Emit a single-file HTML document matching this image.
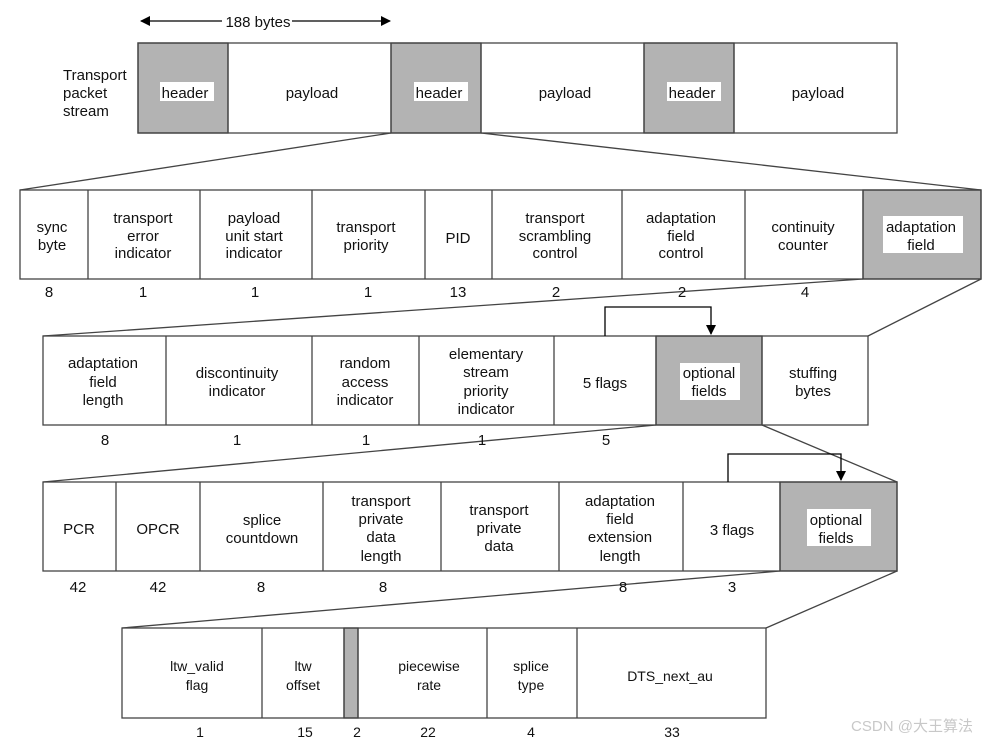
<!DOCTYPE html>
<html><head><meta charset="utf-8"><style>
html,body{margin:0;padding:0;background:#fff;}
svg{display:block;}
text{font-family:"Liberation Sans",Arial,sans-serif;font-size:15px;fill:#111;text-anchor:middle;}
.n5 text{font-size:14px;}
</style></head><body>
<svg width="989" height="744" viewBox="0 0 989 744" xmlns="http://www.w3.org/2000/svg">
<defs><marker id="ah" markerWidth="10" markerHeight="10" refX="9" refY="5" orient="auto" markerUnits="userSpaceOnUse"><path d="M0,0 L10,5 L0,10 z" fill="#000"/></marker>
<marker id="ah2" markerWidth="10" markerHeight="10" refX="1" refY="5" orient="auto" markerUnits="userSpaceOnUse"><path d="M10,0 L0,5 L10,10 z" fill="#000"/></marker></defs>
<g stroke="#444" stroke-width="1.3" fill="none">
<!-- 188 bytes arrow -->
<line x1="141" y1="21" x2="222" y2="21" stroke="#000" marker-start="url(#ah2)"/>
<line x1="292" y1="21" x2="390" y2="21" stroke="#000" marker-end="url(#ah)"/>
<!-- row1 -->
<rect x="138" y="43" width="90" height="90" fill="#b3b3b3"/>
<rect x="391" y="43" width="90" height="90" fill="#b3b3b3"/>
<rect x="644" y="43" width="90" height="90" fill="#b3b3b3"/>
<rect x="138" y="43" width="759" height="90"/>
<line x1="228" y1="43" x2="228" y2="133"/><line x1="391" y1="43" x2="391" y2="133"/><line x1="481" y1="43" x2="481" y2="133"/><line x1="644" y1="43" x2="644" y2="133"/><line x1="734" y1="43" x2="734" y2="133"/>
<line x1="391" y1="133" x2="20" y2="190"/><line x1="481" y1="133" x2="981" y2="190"/>
<!-- row2 -->
<rect x="863" y="190" width="118" height="89" fill="#b3b3b3"/>
<rect x="20" y="190" width="961" height="89"/>
<line x1="88" y1="190" x2="88" y2="279"/><line x1="200" y1="190" x2="200" y2="279"/><line x1="312" y1="190" x2="312" y2="279"/><line x1="425" y1="190" x2="425" y2="279"/><line x1="492" y1="190" x2="492" y2="279"/><line x1="622" y1="190" x2="622" y2="279"/><line x1="745" y1="190" x2="745" y2="279"/><line x1="863" y1="190" x2="863" y2="279"/>
<line x1="863" y1="279" x2="43" y2="336"/><line x1="981" y1="279" x2="868" y2="336"/>
<!-- row3 -->
<rect x="656" y="336" width="106" height="89" fill="#b3b3b3"/>
<rect x="43" y="336" width="825" height="89"/>
<line x1="166" y1="336" x2="166" y2="425"/><line x1="312" y1="336" x2="312" y2="425"/><line x1="419" y1="336" x2="419" y2="425"/><line x1="554" y1="336" x2="554" y2="425"/><line x1="656" y1="336" x2="656" y2="425"/><line x1="762" y1="336" x2="762" y2="425"/>
<polyline points="605,336 605,307 711,307 711,334" stroke="#000" marker-end="url(#ah)"/>
<line x1="656" y1="425" x2="43" y2="482"/><line x1="762" y1="425" x2="897" y2="482"/>
<!-- row4 -->
<rect x="780" y="482" width="117" height="89" fill="#b3b3b3"/>
<rect x="43" y="482" width="854" height="89"/>
<line x1="116" y1="482" x2="116" y2="571"/><line x1="200" y1="482" x2="200" y2="571"/><line x1="323" y1="482" x2="323" y2="571"/><line x1="441" y1="482" x2="441" y2="571"/><line x1="559" y1="482" x2="559" y2="571"/><line x1="683" y1="482" x2="683" y2="571"/><line x1="780" y1="482" x2="780" y2="571"/>
<polyline points="728,482 728,454 841,454 841,480" stroke="#000" marker-end="url(#ah)"/>
<line x1="780" y1="571" x2="122" y2="628"/><line x1="897" y1="571" x2="766" y2="628"/>
<!-- row5 -->
<rect x="344" y="628" width="14" height="90" fill="#b3b3b3"/>
<rect x="122" y="628" width="644" height="90"/>
<line x1="262" y1="628" x2="262" y2="718"/><line x1="344" y1="628" x2="344" y2="718"/><line x1="358" y1="628" x2="358" y2="718"/><line x1="487" y1="628" x2="487" y2="718"/><line x1="577" y1="628" x2="577" y2="718"/>
</g>
<!-- white label backgrounds -->
<g fill="#fff">
<rect x="160" y="82" width="54" height="19"/><rect x="414" y="82" width="54" height="19"/><rect x="667" y="82" width="54" height="19"/>
<rect x="883" y="216" width="80" height="37"/>
<rect x="680" y="363" width="60" height="37"/>
<rect x="807" y="509" width="64" height="37"/>
</g>
<text x="258" y="27">188 bytes</text>
<g style="text-anchor:start"><text x="63" y="80" style="text-anchor:start">Transport</text><text x="63" y="98" style="text-anchor:start">packet</text><text x="63" y="116" style="text-anchor:start">stream</text></g>
<text x="185" y="98">header</text><text x="312" y="98">payload</text><text x="439" y="98">header</text><text x="565" y="98">payload</text><text x="692" y="98">header</text><text x="818" y="98">payload</text>
<!-- row2 labels -->
<text x="52" y="232">sync</text><text x="52" y="250">byte</text>
<text x="143" y="223">transport</text><text x="143" y="241">error</text><text x="143" y="258">indicator</text>
<text x="254" y="223">payload</text><text x="254" y="241">unit start</text><text x="254" y="258">indicator</text>
<text x="366" y="232">transport</text><text x="366" y="250">priority</text>
<text x="458" y="243">PID</text>
<text x="555" y="223">transport</text><text x="555" y="241">scrambling</text><text x="555" y="258">control</text>
<text x="681" y="223">adaptation</text><text x="681" y="241">field</text><text x="681" y="258">control</text>
<text x="803" y="232">continuity</text><text x="803" y="250">counter</text>
<text x="921" y="232">adaptation</text><text x="921" y="250">field</text>
<text x="49" y="297">8</text><text x="143" y="297">1</text><text x="255" y="297">1</text><text x="368" y="297">1</text><text x="458" y="297">13</text><text x="556" y="297">2</text><text x="682" y="297">2</text><text x="805" y="297">4</text>
<!-- row3 labels -->
<text x="103" y="368">adaptation</text><text x="103" y="387">field</text><text x="103" y="405">length</text>
<text x="237" y="378">discontinuity</text><text x="237" y="396">indicator</text>
<text x="365" y="368">random</text><text x="365" y="387">access</text><text x="365" y="405">indicator</text>
<text x="486" y="359">elementary</text><text x="486" y="377">stream</text><text x="486" y="396">priority</text><text x="486" y="414">indicator</text>
<text x="605" y="388">5 flags</text>
<text x="709" y="378">optional</text><text x="709" y="396">fields</text>
<text x="813" y="378">stuffing</text><text x="813" y="396">bytes</text>
<text x="105" y="445">8</text><text x="237" y="445">1</text><text x="366" y="445">1</text><text x="482" y="445">1</text><text x="606" y="445">5</text>
<!-- row4 labels -->
<text x="79" y="534">PCR</text><text x="158" y="534">OPCR</text>
<text x="262" y="525">splice</text><text x="262" y="543">countdown</text>
<text x="381" y="506">transport</text><text x="381" y="524">private</text><text x="381" y="542">data</text><text x="381" y="561">length</text>
<text x="499" y="515">transport</text><text x="499" y="533">private</text><text x="499" y="551">data</text>
<text x="620" y="506">adaptation</text><text x="620" y="524">field</text><text x="620" y="542">extension</text><text x="620" y="561">length</text>
<text x="732" y="535">3 flags</text>
<text x="836" y="525">optional</text><text x="836" y="543">fields</text>
<text x="78" y="592">42</text><text x="158" y="592">42</text><text x="261" y="592">8</text><text x="383" y="592">8</text><text x="623" y="592">8</text><text x="732" y="592">3</text>
<!-- row5 labels -->
<g class="n5">
<text x="197" y="671">ltw_valid</text><text x="197" y="690">flag</text>
<text x="303" y="671">ltw</text><text x="303" y="690">offset</text>
<text x="429" y="671">piecewise</text><text x="429" y="690">rate</text>
<text x="531" y="671">splice</text><text x="531" y="690">type</text>
<text x="670" y="681">DTS_next_au</text>
<text x="200" y="737">1</text><text x="305" y="737">15</text><text x="357" y="737">2</text><text x="428" y="737">22</text><text x="531" y="737">4</text><text x="672" y="737">33</text>
</g>
<text x="912" y="731" style="font-family:'Liberation Sans','Noto Sans CJK SC',sans-serif;font-size:15px;fill:#c8c8c8">CSDN @大王算法</text>
</svg>
</body></html>
